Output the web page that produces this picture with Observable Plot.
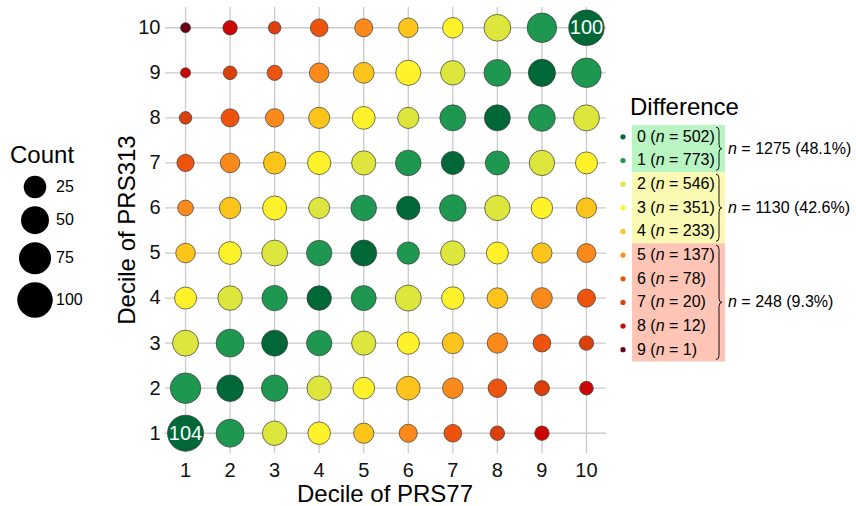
<!DOCTYPE html>
<html>
<head>
<meta charset="utf-8">
<script src="https://cdn.jsdelivr.net/npm/d3@7"></script>
<script src="https://cdn.jsdelivr.net/npm/@observablehq/plot@0.6"></script>
<style>
  html, body { margin: 0; padding: 0; background: #fff; }
  #wrap { position: relative; width: 856px; height: 506px; font-family: "Liberation Sans", Arial, sans-serif; color: #000; overflow: hidden; }
  #wrap > svg { position: absolute; left: 0; top: 0; }
  .title { position: absolute; font-size: 24px; white-space: nowrap; line-height: 1; }
  .lg { position: absolute; font-size: 16px; white-space: nowrap; line-height: 1; }
</style>
</head>
<body>
<div id="wrap"></div>
<script>
// ---- data ----
const deciles = [1, 2, 3, 4, 5, 6, 7, 8, 9, 10];
// one array per PRS313 decile, across PRS77 deciles 1..10
const prs313_1  = [104, 50, 33, 25, 17, 11, 10,  4,  4,   0];
const prs313_2  = [ 65, 43, 42, 33, 22, 30, 18, 12,  5,   3];
const prs313_3  = [ 40, 50, 40, 37, 32, 24, 20, 17, 10,   4];
const prs313_4  = [ 23, 33, 37, 33, 35, 40, 25, 18, 19,  11];
const prs313_5  = [ 15, 26, 39, 37, 40, 24, 33, 23, 17,  13];
const prs313_6  = [  6, 21, 31, 20, 38, 29, 43, 37, 21,  17];
const prs313_7  = [  9, 15, 24, 28, 32, 38, 27, 31, 37,  23];
const prs313_8  = [  2, 11, 12, 20, 26, 20, 40, 40, 44,  40];
const prs313_9  = [  1,  3,  5, 15, 19, 36, 33, 44, 46,  59];
const prs313_10 = [  1,  4,  2, 10, 11, 15, 18, 44, 59, 100];
const countRows = [prs313_1, prs313_2, prs313_3, prs313_4, prs313_5, prs313_6, prs313_7, prs313_8, prs313_9, prs313_10];

const diffValues = [0, 1, 2, 3, 4, 5, 6, 7, 8, 9];
const diffCounts = [502, 773, 546, 351, 233, 137, 78, 20, 12, 1];
const diffColors = ["#006837", "#1e9850", "#dce63c", "#fff22a", "#fdc41c", "#fb8a1a", "#ee530e", "#dc400a", "#cc0505", "#6a0018"];

const groupStart = [0, 2, 5];
const groupEnd = [1, 4, 9];
const groupTotals = [1275, 1130, 248];
const groupPct = ["48.1", "42.6", "9.3"];
const groupFills = ["#b9f4c3", "#fafab2", "#fec5b6"];

const sizeLegendValues = [25, 50, 75, 100];

// ---- build cells ----
const cells = [];
countRows.forEach((row, yi) => row.forEach((c, xi) => {
  if (c > 0) cells.push({x: deciles[xi], y: deciles[yi], count: c, diff: Math.abs(xi - yi)});
}));
const rOf = c => 1 + Math.sqrt(c - 1);
const maxCount = d3.max(cells, d => d.count);
const minCount = d3.min(cells, d => d.count);
const rScaleOpts = {type: "linear", domain: [rOf(minCount), rOf(maxCount)], range: [5, 18]};

const wrap = document.getElementById("wrap");

const chart = Plot.plot({
  width: 856, height: 506,
  marginLeft: 165, marginRight: 250, marginTop: 7, marginBottom: 53,
  style: {fontFamily: '"Liberation Sans", Arial, sans-serif', background: "transparent", color: "#000"},
  x: {domain: [0.55, 10.45]},
  y: {domain: [0.55, 10.45]},
  r: rScaleOpts,
  color: {type: "ordinal", domain: diffValues, range: diffColors},
  marks: [
    Plot.gridX(deciles, {stroke: "#cacaca", strokeOpacity: 1, strokeWidth: 1.3}),
    Plot.gridY(deciles, {stroke: "#cacaca", strokeOpacity: 1, strokeWidth: 1.3}),
    Plot.axisX(deciles, {tickSize: 0, tickPadding: 9, fontSize: 20, label: null, fill: "#111"}),
    Plot.axisY(deciles, {tickSize: 0, tickPadding: 5, fontSize: 20, label: null, fill: "#111"}),
    Plot.dot(cells, {x: "x", y: "y", r: d => rOf(d.count), fill: "diff", stroke: "#3a3a3a", strokeWidth: 0.7}),
    Plot.text(cells.filter(d => d.count >= 100), {x: "x", y: "y", text: d => String(d.count), fill: "white", fontSize: 20})
  ]
});
wrap.appendChild(chart);

function addDiv(cls, html, styles) {
  const el = document.createElement("div");
  el.className = cls;
  el.innerHTML = html;
  Object.assign(el.style, styles);
  wrap.appendChild(el);
  return el;
}
// axis titles
addDiv("title", "Decile of PRS77", {left: "385px", top: "494px", transform: "translate(-50%,-50%)"});
addDiv("title", "Decile of PRS313", {left: "127px", top: "230px", transform: "translate(-50%,-50%) rotate(-90deg)"});

// ---- Count legend ----
addDiv("title", "Count", {left: "10px", top: "155px", transform: "translateY(-50%)"});
const rScale = Plot.scale({r: rScaleOpts});
const lsvg = d3.create("svg").attr("width", 856).attr("height", 506).style("position", "absolute").style("left", 0).style("top", 0);
let cy = 187 - rScale.apply(rOf(sizeLegendValues[0]));
sizeLegendValues.forEach((v) => {
  const r = rScale.apply(rOf(v));
  cy += r;
  lsvg.append("circle").attr("cx", 35).attr("cy", cy).attr("r", r).attr("fill", "#000");
  addDiv("lg", String(v), {left: "56px", top: cy + "px", transform: "translateY(-50%)"});
  cy += r + 8;
});

// ---- Difference legend ----
addDiv("title", "Difference", {left: "630px", top: "107px", transform: "translateY(-50%)"});
const colorScale = Plot.scale({color: {type: "ordinal", domain: diffValues, range: diffColors}});
const rowTop = 125, rowH = 23.65;
const rowY = i => rowTop + rowH * (i + 0.5);
groupStart.forEach((s, g) => {
  const e = groupEnd[g];
  const y0 = rowTop + rowH * s, y1 = rowTop + rowH * (e + 1);
  lsvg.append("rect").attr("x", 632).attr("y", y0).attr("width", 93).attr("height", y1 - y0).attr("fill", groupFills[g]);
  const x = 716, w = 6, m = (y0 + y1) / 2, a = y0 + 2, b = y1 - 2;
  const p = `M${x},${a} Q${x + w / 2},${a} ${x + w / 2},${a + 4} L${x + w / 2},${m - 4} Q${x + w / 2},${m} ${x + w},${m} Q${x + w / 2},${m} ${x + w / 2},${m + 4} L${x + w / 2},${b - 4} Q${x + w / 2},${b} ${x},${b}`;
  lsvg.append("path").attr("d", p).attr("fill", "none").attr("stroke", "#111").attr("stroke-width", 1);
  addDiv("lg", `<i>n</i> = ${groupTotals[g]} (${groupPct[g]}%)`, {left: "728px", top: m + "px", transform: "translateY(-50%)"});
});
diffValues.forEach((v, i) => {
  lsvg.append("circle").attr("cx", 623).attr("cy", rowY(i)).attr("r", 2.6).attr("fill", colorScale.apply(v));
});
wrap.appendChild(lsvg.node());
diffValues.forEach((v, i) => {
  addDiv("lg", `${v} (<i>n</i> = ${diffCounts[i]})`, {left: "637px", top: rowY(i) + "px", transform: "translateY(-50%)"});
});
</script>
</body>
</html>
